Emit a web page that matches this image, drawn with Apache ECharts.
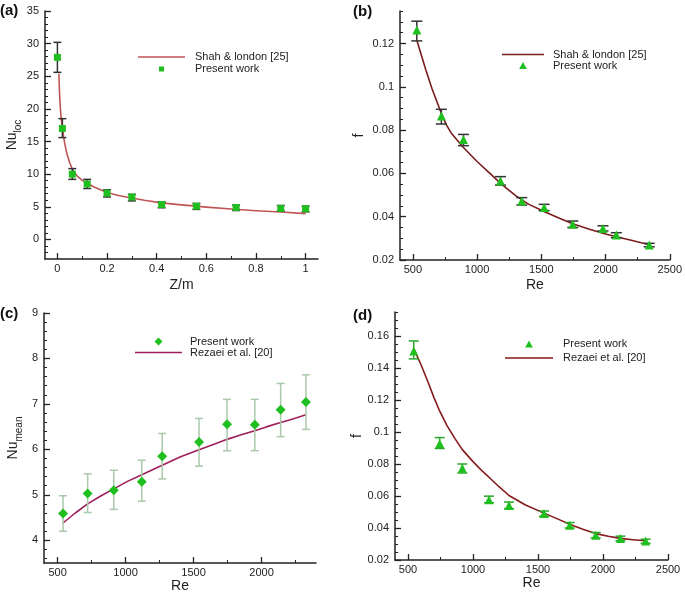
<!DOCTYPE html>
<html>
<head>
<meta charset="utf-8">
<script src="https://cdn.jsdelivr.net/npm/echarts@6/dist/echarts.min.js"></script>
<style>html,body{margin:0;padding:0;background:#fff}#c{width:685px;height:594px}</style>
</head>
<body>
<div id="c"></div>
<script>
// ---------- Panel (a) ----------
const aZ    = [0, 0.02, 0.06, 0.12, 0.2, 0.3, 0.42, 0.56, 0.72, 0.9, 1.0];
const aNu   = [27.9, 17.0, 10.0, 8.5, 7.1, 6.5, 5.35, 5.1, 4.9, 4.75, 4.7];
const aLow  = [25.6, 15.6, 9.2, 7.8, 6.5, 5.9, 4.85, 4.6, 4.43, 4.33, 4.23];
const aHigh = [30.2, 18.5, 10.85, 9.2, 7.6, 6.9, 5.75, 5.5, 5.25, 5.2, 5.1];
const aLineZ  = [0.006, 0.008, 0.01, 0.0125, 0.015, 0.0175, 0.02, 0.025, 0.03, 0.035, 0.04, 0.05, 0.06, 0.07, 0.08, 0.1, 0.12, 0.15, 0.2, 0.25, 0.3, 0.35, 0.42, 0.5, 0.56, 0.6, 0.7, 0.8, 0.9, 1.0];
const aLineNu = [25.4, 23.0, 21.3, 19.8, 18.7, 17.8, 17.1, 15.7, 14.6, 13.7, 12.9, 11.7, 10.8, 10.2, 9.7, 9.05, 8.6, 8.0, 7.2, 6.7, 6.35, 6.0, 5.6, 5.3, 5.1, 4.95, 4.65, 4.4, 4.2, 3.95];
const aXTicks = [0, 0.2, 0.4, 0.6, 0.8, 1];
const aXMinor = [0.1, 0.3, 0.5, 0.7, 0.9];
const aYTicks = [0, 5, 10, 15, 20, 25, 30, 35];

// ---------- Panel (b) ----------
const bRe   = [531, 722, 894, 1182, 1348, 1522, 1745, 1980, 2084, 2340];
const bF    = [0.1262, 0.0865, 0.0757, 0.0565, 0.0472, 0.0443, 0.0365, 0.0346, 0.0315, 0.0269];
const bLow  = [0.1212, 0.0828, 0.0728, 0.0546, 0.0454, 0.0428, 0.0350, 0.0334, 0.0303, 0.0261];
const bHigh = [0.1303, 0.0896, 0.0780, 0.0585, 0.0488, 0.0457, 0.0380, 0.0358, 0.0326, 0.0277];
const bLineRe = [531, 600, 650, 720, 760, 800, 890, 1000, 1100, 1185, 1300, 1400, 1525, 1650, 1750, 1875, 2000, 2100, 2200, 2340];
const bLineF  = [0.1215, 0.108, 0.099, 0.088, 0.0825, 0.0785, 0.0722, 0.0655, 0.0600, 0.0553, 0.0497, 0.0458, 0.0423, 0.0391, 0.0366, 0.0342, 0.0320, 0.0305, 0.0291, 0.0270];
const bXTicks = [500, 1000, 1500, 2000, 2500];
const bYTicks = [0.02, 0.04, 0.06, 0.08, 0.1, 0.12];

// ---------- Panel (c) ----------
const cRe   = [540, 721, 913, 1119, 1269, 1540, 1746, 1950, 2140, 2326];
const cNu   = [4.59, 5.03, 5.10, 5.29, 5.85, 6.16, 6.55, 6.54, 6.87, 7.04];
const cLow  = [4.20, 4.61, 4.68, 4.86, 5.35, 5.63, 5.97, 5.97, 6.28, 6.44];
const cHigh = [4.98, 5.46, 5.54, 5.76, 6.35, 6.68, 7.10, 7.10, 7.45, 7.64];
const cLineRe = [540, 630, 721, 820, 913, 1010, 1119, 1269, 1400, 1540, 1650, 1746, 1850, 1950, 2040, 2140, 2230, 2326];
const cLineNu = [4.38, 4.60, 4.80, 4.98, 5.13, 5.29, 5.44, 5.65, 5.83, 5.99, 6.11, 6.22, 6.32, 6.41, 6.50, 6.59, 6.67, 6.76];
const cXTicks = [500, 1000, 1500, 2000];
const cYTicks = [4, 5, 6, 7, 8, 9];

// ---------- Panel (d) ----------
const dRe   = [544, 744, 918, 1123, 1277, 1546, 1744, 1944, 2134, 2328];
const dF    = [0.1507, 0.0928, 0.0773, 0.0577, 0.0541, 0.0490, 0.0417, 0.0355, 0.0335, 0.0318];
const dLow  = [0.1457, 0.0897, 0.0744, 0.0558, 0.0521, 0.0473, 0.0400, 0.0338, 0.0320, 0.0304];
const dHigh = [0.1569, 0.0965, 0.0800, 0.0599, 0.0562, 0.0506, 0.0434, 0.0372, 0.0349, 0.0330];
const dLineRe = [544, 600, 650, 700, 744, 800, 860, 918, 1000, 1060, 1123, 1200, 1277, 1400, 1546, 1650, 1744, 1850, 1944, 2040, 2134, 2230, 2328];
const dLineF  = [0.1523, 0.1420, 0.1320, 0.1215, 0.1130, 0.1040, 0.0960, 0.0890, 0.0815, 0.0765, 0.0717, 0.0658, 0.0603, 0.0545, 0.0493, 0.0457, 0.0423, 0.0391, 0.0365, 0.0348, 0.0335, 0.0327, 0.0320];
const dXTicks = [500, 1000, 1500, 2000, 2500];
const dYTicks = [0.02, 0.04, 0.06, 0.08, 0.1, 0.12, 0.14, 0.16];

// minor tick helper (tick positions only)
function minorTicks(min, max, step, majors) {
  const out = [];
  const n = Math.round((max - min) / step);
  for (let i = 0; i <= n; i++) {
    const v = +(min + i * step).toFixed(6);
    if (!majors.some(m => Math.abs(m - v) < step / 10)) out.push(v);
  }
  return out;
}
const aYMinor = minorTicks(-2, 35, 1, aYTicks);
const bXMinor = minorTicks(500, 2500, 250, bXTicks);
const bYMinor = minorTicks(0.025, 0.135, 0.005, bYTicks);
const cXMinor = minorTicks(500, 2300, 250, cXTicks);
const cYMinor = minorTicks(3.6, 9, 0.2, cYTicks);
const dXMinor = minorTicks(500, 2500, 250, dXTicks);
const dYMinor = minorTicks(0.025, 0.175, 0.005, dYTicks);

const FONT = 'Liberation Sans, Arial, Helvetica, sans-serif';
const GREEN = '#1fbf1f';
const AX = '#222';
const fmt = v => String(+(+v).toFixed(3));

const xAxes = [], yAxes = [];
function addAxes(list, grid, min, max, majors, minors, isY, name, nameGap, nameStyle) {
  const mainIdx = list.length;
  list.push({
    type: 'value', gridIndex: grid, min: min, max: max,
    position: isY ? 'left' : 'bottom',
    axisLine: { show: true, onZero: false, lineStyle: { color: AX, width: 1.5 } },
    axisTick: { show: true, inside: true, length: 6, customValues: majors, lineStyle: { color: AX, width: 1.3 } },
    axisLabel: { customValues: majors, formatter: fmt, fontSize: 11, color: AX, fontFamily: FONT, margin: isY ? 6 : 4 },
    splitLine: { show: false },
    name: name, nameLocation: 'middle', nameGap: nameGap,
    nameTextStyle: nameStyle
  });
  list.push({
    type: 'value', gridIndex: grid, min: min, max: max,
    position: isY ? 'left' : 'bottom',
    axisLine: { show: false, onZero: false },
    axisTick: { show: true, inside: true, length: 3, customValues: minors, lineStyle: { color: AX, width: 1 } },
    axisLabel: { show: false },
    splitLine: { show: false }
  });
  return mainIdx;
}
const titleStyle = { fontSize: 14, color: AX, fontFamily: FONT };
function subStyle() {
  return {
    fontFamily: FONT, color: AX,
    rich: {
      n: { fontSize: 14, lineHeight: 18, verticalAlign: 'top', fontFamily: FONT, color: AX },
      s: { fontSize: 10, lineHeight: 10, verticalAlign: 'bottom', fontFamily: FONT, color: AX }
    }
  };
}

const grids = [
  { left: 45, top: 11, width: 273, height: 248 },
  { left: 400, top: 11, width: 273, height: 249 },
  { left: 44, top: 313, width: 272, height: 250 },
  { left: 395, top: 312, width: 273, height: 248 }
];

const ax = {};
ax.ax = addAxes(xAxes, 0, -0.05, 1.05, aXTicks, aXMinor, false, 'Z/m', 19, titleStyle);
ax.ay = addAxes(yAxes, 0, -3, 35, aYTicks, aYMinor, true, '{n|Nu}{s|loc}', 22, subStyle());
ax.bx = addAxes(xAxes, 1, 400, 2500, bXTicks, bXMinor, false, 'Re', 18, titleStyle);
ax.by = addAxes(yAxes, 1, 0.02, 0.135, bYTicks, bYMinor, true, 'f', 34, titleStyle);
ax.cx = addAxes(xAxes, 2, 400, 2400, cXTicks, cXMinor, false, 'Re', 16, titleStyle);
ax.cy = addAxes(yAxes, 2, 3.5, 9, cYTicks, cYMinor, true, '{n|Nu}{s|mean}', 20, subStyle());
ax.dx = addAxes(xAxes, 3, 400, 2500, dXTicks, dXMinor, false, 'Re', 16, titleStyle);
ax.dy = addAxes(yAxes, 3, 0.02, 0.175, dYTicks, dYMinor, true, 'f', 30, titleStyle);

function zip(a, b) { return a.map((v, i) => [v, b[i]]); }
function zip3(a, b, c) { return a.map((v, i) => [v, b[i], c[i]]); }

function errSeries(xi, yi, xs, lo, hi, color, cap, width) {
  return {
    type: 'custom', xAxisIndex: xi, yAxisIndex: yi, z: 3, silent: true,
    data: zip3(xs, lo, hi),
    encode: { x: 0, y: [1, 2] },
    renderItem: function (params, api) {
      const p1 = api.coord([api.value(0), api.value(1)]);
      const p2 = api.coord([api.value(0), api.value(2)]);
      const st = { stroke: color, lineWidth: width };
      return {
        type: 'group',
        children: [
          { type: 'line', shape: { x1: p1[0], y1: p1[1], x2: p2[0], y2: p2[1] }, style: st },
          { type: 'line', shape: { x1: p1[0] - cap, y1: p1[1], x2: p1[0] + cap, y2: p1[1] }, style: st },
          { type: 'line', shape: { x1: p2[0] - cap, y1: p2[1], x2: p2[0] + cap, y2: p2[1] }, style: st }
        ]
      };
    }
  };
}
function lineSeries(name, xi, yi, xs, ys, color) {
  return {
    name: name, type: 'line', xAxisIndex: xi, yAxisIndex: yi, z: 2,
    data: zip(xs, ys), symbol: 'none', smooth: false,
    lineStyle: { color: color, width: 1.6, join: 'round' }, itemStyle: { color: color }
  };
}
function scatterSeries(name, xi, yi, xs, ys, symbol, size) {
  return {
    name: name, type: 'scatter', xAxisIndex: xi, yAxisIndex: yi, z: 4,
    data: zip(xs, ys), symbol: symbol, symbolSize: size,
    itemStyle: { color: GREEN, opacity: 1 }
  };
}

const RED_A = '#bf5555', RED_B = '#7a1c1c', MAG_C = '#9e1f5c', RED_D = '#861a1a';

const series = [
  lineSeries('a|Shah & london [25]', ax.ax, ax.ay, aLineZ, aLineNu, RED_A),
  errSeries(ax.ax, ax.ay, aZ, aLow, aHigh, '#333', 4, 1.5),
  scatterSeries('a|Present work', ax.ax, ax.ay, aZ, aNu, 'rect', 7),

  lineSeries('b|Shah & london [25]', ax.bx, ax.by, bLineRe, bLineF, RED_B),
  errSeries(ax.bx, ax.by, bRe, bLow, bHigh, '#333', 5.5, 1.5),
  scatterSeries('b|Present work', ax.bx, ax.by, bRe, bF, 'triangle', 9),

  lineSeries('c|Rezaei et al. [20]', ax.cx, ax.cy, cLineRe, cLineNu, MAG_C),
  errSeries(ax.cx, ax.cy, cRe, cLow, cHigh, '#a9c9a9', 4, 1.5),
  scatterSeries('c|Present work', ax.cx, ax.cy, cRe, cNu, 'diamond', 10),

  lineSeries('d|Rezaei et al. [20]', ax.dx, ax.dy, dLineRe, dLineF, RED_D),
  errSeries(ax.dx, ax.dy, dRe, dLow, dHigh, '#2aa62a', 5, 1.5),
  scatterSeries('d|Present work', ax.dx, ax.dy, dRe, dF, 'triangle', 9)
];

const ICON_LINE = 'path://M0,0 L200,0 L200,7 L0,7 Z';
const ICON_SQ = 'path://M0,0 L10,0 L10,10 L0,10 Z';
const ICON_TRI = 'path://M5,0 L10,9 L0,9 Z';
const ICON_DIA = 'path://M5,0 L10,5 L5,10 L0,5 Z';

function legend(items, left, top, iw, ih, lh, pad) {
  return {
    orient: 'vertical', left: left, top: top, padding: 0, itemGap: 0,
    itemWidth: iw, itemHeight: ih, selectedMode: false, symbolKeepAspect: true,
    data: items,
    formatter: n => n.slice(2),
    textStyle: { fontSize: 11, color: AX, fontFamily: FONT, lineHeight: lh, padding: [0, 0, 0, pad] }
  };
}

const option = {
  animation: false,
  backgroundColor: '#fff',
  textStyle: { fontFamily: FONT },
  title: [
    { text: '(a)', left: 0, top: 3, padding: 0, textStyle: { fontSize: 15, fontWeight: 'bold', color: '#111', fontFamily: FONT } },
    { text: '(b)', left: 353, top: 4, padding: 0, textStyle: { fontSize: 15, fontWeight: 'bold', color: '#111', fontFamily: FONT } },
    { text: '(c)', left: 0, top: 306, padding: 0, textStyle: { fontSize: 15, fontWeight: 'bold', color: '#111', fontFamily: FONT } },
    { text: '(d)', left: 353, top: 308, padding: 0, textStyle: { fontSize: 15, fontWeight: 'bold', color: '#111', fontFamily: FONT } }
  ],
  grid: grids,
  xAxis: xAxes,
  yAxis: yAxes,
  legend: [
    legend([{ name: 'a|Shah & london [25]', icon: ICON_LINE }, { name: 'a|Present work', icon: ICON_SQ }], 138, 51, 47, 5, 12, 5),
    legend([{ name: 'b|Shah & london [25]', icon: ICON_LINE }, { name: 'b|Present work', icon: ICON_TRI }], 502, 49, 42, 7, 11, 4),
    legend([{ name: 'c|Present work', icon: ICON_DIA }, { name: 'c|Rezaei et al. [20]', icon: ICON_LINE }], 135, 336, 47, 8, 11, 3),
    legend([{ name: 'd|Present work', icon: ICON_TRI }, { name: 'd|Rezaei et al. [20]', icon: ICON_LINE }], 505, 337, 48, 7, 14, 5)
  ],
  series: series
};

const chart = echarts.init(document.getElementById('c'), null, { renderer: 'canvas' });
chart.setOption(option);
</script>
</body>
</html>
